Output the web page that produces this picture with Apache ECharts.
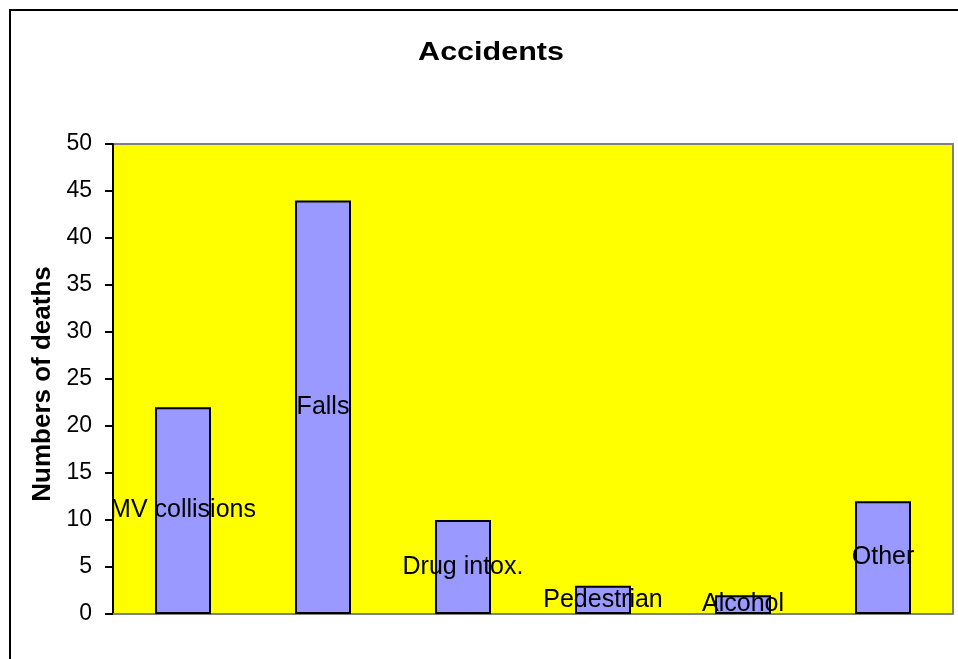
<!DOCTYPE html>
<html>
<head>
<meta charset="utf-8">
<script src="https://cdn.jsdelivr.net/npm/echarts@6/dist/echarts.min.js"></script>
<style>html,body{margin:0;padding:0;background:#fff}#c{width:958px;height:659px}</style>
</head>
<body>
<div id="c"></div>
<script>
const categories = ["MV collisions", "Falls", "Drug intox.", "Pedestrian", "Alcohol", "Other"];
const deaths = [22, 44, 10, 3, 2, 12];
const yTicks = [0, 5, 10, 15, 20, 25, 30, 35, 40, 45, 50];
const titleText = 'Accidents';
const yAxisName = 'Numbers of deaths';

const FONT = 'Liberation Sans, Arial, sans-serif';
const chart = echarts.init(document.getElementById('c'), null, {renderer: 'canvas'});
chart.setOption({
  animation: false,
  backgroundColor: '#ffffff',
  graphic: [{
    type: 'rect', z: -1,
    shape: {x: 10, y: 10, width: 1000, height: 700},
    style: {fill: 'none', stroke: '#000', lineWidth: 2}
  }, {
    type: 'text', x: 491, y: 53, scaleX: 1.22, z: 10,
    style: {text: titleText, font: 'bold 25px ' + FONT, fill: '#000', align: 'center', verticalAlign: 'middle'}
  }],
  grid: {
    left: 113, top: 144, width: 840, height: 470,
    show: true, backgroundColor: '#ffff00', borderColor: '#808080', borderWidth: 2
  },
  xAxis: {
    type: 'category', data: categories,
    axisLine: {show: true, lineStyle: {color: '#808080', width: 2}},
    axisTick: {show: false},
    axisLabel: {show: false}
  },
  yAxis: {
    type: 'value', min: 0, max: 50, interval: 5,
    name: yAxisName, nameLocation: 'middle', nameGap: 54, nameRotate: 90,
    nameTextStyle: {fontFamily: FONT, fontSize: 26, fontWeight: 'bold', color: '#000', padding: [0, 10, 0, 0]},
    axisLine: {show: true, lineStyle: {color: '#000', width: 2}},
    axisTick: {show: true, inside: false, length: 8, lineStyle: {color: '#000', width: 2}},
    axisLabel: {
      margin: 21, fontFamily: FONT, fontSize: 23, color: '#000',
      formatter: v => yTicks.includes(v) ? String(v) : ''
    },
    splitLine: {show: false}
  },
  series: [{
    type: 'bar', data: deaths, barWidth: '40%',
    itemStyle: {color: '#9999ff', borderColor: '#000', borderWidth: 2},
    label: {
      show: true, position: 'inside',
      formatter: p => categories[p.dataIndex],
      fontFamily: FONT, fontSize: 25, color: '#000',
      textBorderWidth: 0, overflow: 'none'
    },
    labelLayout: {hideOverlap: false}
  }]
});
</script>
</body>
</html>
